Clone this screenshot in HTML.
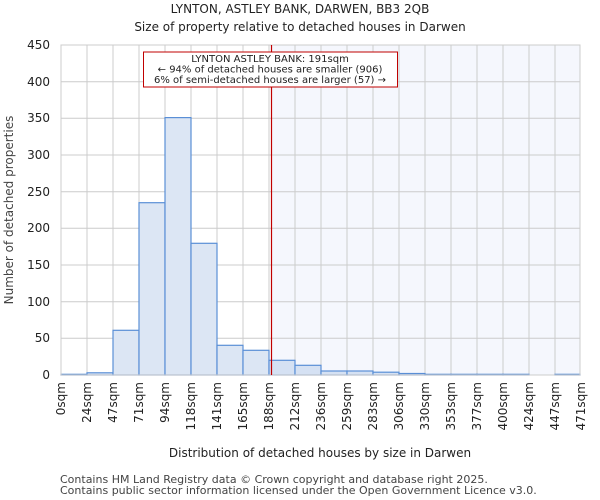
<!DOCTYPE html>
<html><head><style>body{margin:0;background:#fff}svg{display:block}text{font-family:"DejaVu Sans","Liberation Sans",sans-serif;fill:#222}</style></head><body>
<svg width="600" height="500" viewBox="0 0 600 500">
<text x="300" y="13" font-size="12" text-anchor="middle">LYNTON, ASTLEY BANK, DARWEN, BB3 2QB</text>
<text x="300" y="31" font-size="12" text-anchor="middle">Size of property relative to detached houses in Darwen</text>
<rect x="271.5" y="45" width="308.5" height="330" fill="#f5f7fd"/>
<g stroke="#cccccc" stroke-width="1">
<line x1="61" x2="580" y1="45" y2="45"/><line x1="61" x2="580" y1="81.7" y2="81.7"/><line x1="61" x2="580" y1="118.3" y2="118.3"/><line x1="61" x2="580" y1="155" y2="155"/><line x1="61" x2="580" y1="191.7" y2="191.7"/><line x1="61" x2="580" y1="228.3" y2="228.3"/><line x1="61" x2="580" y1="265" y2="265"/><line x1="61" x2="580" y1="301.7" y2="301.7"/><line x1="61" x2="580" y1="338.3" y2="338.3"/>
<line x1="87" x2="87" y1="45" y2="375"/><line x1="113" x2="113" y1="45" y2="375"/><line x1="139" x2="139" y1="45" y2="375"/><line x1="165" x2="165" y1="45" y2="375"/><line x1="191" x2="191" y1="45" y2="375"/><line x1="217" x2="217" y1="45" y2="375"/><line x1="243" x2="243" y1="45" y2="375"/><line x1="269" x2="269" y1="45" y2="375"/><line x1="295" x2="295" y1="45" y2="375"/><line x1="321" x2="321" y1="45" y2="375"/><line x1="347" x2="347" y1="45" y2="375"/><line x1="373" x2="373" y1="45" y2="375"/><line x1="399" x2="399" y1="45" y2="375"/><line x1="425" x2="425" y1="45" y2="375"/><line x1="451" x2="451" y1="45" y2="375"/><line x1="477" x2="477" y1="45" y2="375"/><line x1="503" x2="503" y1="45" y2="375"/><line x1="529" x2="529" y1="45" y2="375"/><line x1="555" x2="555" y1="45" y2="375"/>
</g>
<g fill="#dce6f4" stroke="#5a8fd6" stroke-width="1.2">
<rect x="61" y="374.3" width="26" height="0.7"/>
<rect x="87" y="372.8" width="26" height="2.2"/>
<rect x="113" y="330.3" width="26" height="44.7"/>
<rect x="139" y="202.7" width="26" height="172.3"/>
<rect x="165" y="117.6" width="26" height="257.4"/>
<rect x="191" y="243.3" width="26" height="131.7"/>
<rect x="217" y="345.3" width="26" height="29.7"/>
<rect x="243" y="350.3" width="26" height="24.7"/>
</g>
<g fill="#d5e1f3" stroke="#5a8fd6" stroke-width="1.2">
<rect x="269" y="360.3" width="26" height="14.7"/>
<rect x="295" y="365.3" width="26" height="9.7"/>
<rect x="321" y="371" width="26" height="4"/>
<rect x="347" y="371" width="26" height="4"/>
<rect x="373" y="372.2" width="26" height="2.8"/>
<rect x="399" y="373.5" width="26" height="1.5"/>
<rect x="425" y="374.3" width="26" height="0.7"/>
<rect x="451" y="374.3" width="26" height="0.7"/>
<rect x="477" y="374.3" width="26" height="0.7"/>
<rect x="503" y="374.3" width="26" height="0.7"/>
<rect x="555" y="374.3" width="25" height="0.7"/>
</g>
<rect x="61" y="45" width="519" height="330" fill="none" stroke="#cccccc"/>
<line x1="271.5" x2="271.5" y1="45" y2="375" stroke="#c00000" stroke-width="1.2"/>
<rect x="143.5" y="52" width="254" height="35" fill="#fff" stroke="#c00000"/>
<g font-size="10" text-anchor="middle"><text x="270" y="62">LYNTON ASTLEY BANK: 191sqm</text><text x="270" y="72.5">← 94% of detached houses are smaller (906)</text><text x="270" y="83">6% of semi-detached houses are larger (57) →</text></g>
<g font-size="12" text-anchor="end">
<text x="50" y="49">450</text><text x="50" y="86">400</text><text x="50" y="122">350</text><text x="50" y="159">300</text><text x="50" y="196">250</text><text x="50" y="232">200</text><text x="50" y="269">150</text><text x="50" y="306">100</text><text x="50" y="342">50</text><text x="50" y="379">0</text>
</g>
<g font-size="12" text-anchor="end">
<text transform="translate(65,382) rotate(-90)">0sqm</text><text transform="translate(91,382) rotate(-90)">24sqm</text><text transform="translate(117,382) rotate(-90)">47sqm</text><text transform="translate(143,382) rotate(-90)">71sqm</text><text transform="translate(169,382) rotate(-90)">94sqm</text><text transform="translate(195,382) rotate(-90)">118sqm</text><text transform="translate(221,382) rotate(-90)">141sqm</text><text transform="translate(247,382) rotate(-90)">165sqm</text><text transform="translate(273,382) rotate(-90)">188sqm</text><text transform="translate(299,382) rotate(-90)">212sqm</text><text transform="translate(325,382) rotate(-90)">236sqm</text><text transform="translate(351,382) rotate(-90)">259sqm</text><text transform="translate(377,382) rotate(-90)">283sqm</text><text transform="translate(403,382) rotate(-90)">306sqm</text><text transform="translate(429,382) rotate(-90)">330sqm</text><text transform="translate(455,382) rotate(-90)">353sqm</text><text transform="translate(481,382) rotate(-90)">377sqm</text><text transform="translate(507,382) rotate(-90)">400sqm</text><text transform="translate(533,382) rotate(-90)">424sqm</text><text transform="translate(559,382) rotate(-90)">447sqm</text><text transform="translate(585,382) rotate(-90)">471sqm</text>
</g>
<text x="320" y="457" font-size="12" text-anchor="middle">Distribution of detached houses by size in Darwen</text>
<text transform="translate(13,210) rotate(-90)" font-size="12" text-anchor="middle" style="fill:#444">Number of detached properties</text>
<text x="60" y="483" font-size="11" style="fill:#444">Contains HM Land Registry data © Crown copyright and database right 2025.</text>
<text x="60" y="494" font-size="11" style="fill:#444">Contains public sector information licensed under the Open Government Licence v3.0.</text>
</svg>
</body></html>
